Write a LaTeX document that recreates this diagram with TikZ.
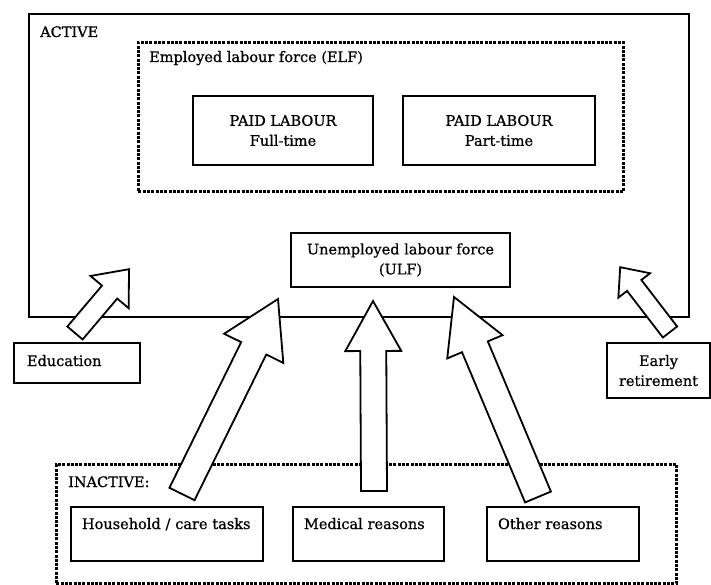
\documentclass[tikz,border=0pt]{standalone}
\usepackage{fontspec}
\setmainfont{DejaVu Serif}[FakeBold=0.8]
\usetikzlibrary{calc,positioning}

% fat outline arrow: tail, tip, shaft half width, head half width, head length
\newcommand{\blockarrow}[5]{%
  \coordinate (ba base) at ($(#2)!#5!(#1)$);
  \draw[blockarrow] ($(#1)!#3!90:(#2)$) -- ($(ba base)!#3!90:(#2)$)
    -- ($(ba base)!#4!90:(#2)$) -- (#2) -- ($(ba base)!#4!-90:(#2)$)
    -- ($(ba base)!#3!-90:(#2)$) -- ($(#1)!#3!-90:(#2)$) -- cycle;
}

\tikzset{%
  % Specifications for style of boxes:
          base/.style = {rectangle, draw=black, line width=2pt, inner sep=0pt,
                         anchor=north west, font=\fontsize{14.5}{20}\selectfont},
      framebox/.style = {base, line width=2.2pt},
       dashbox/.style = {base, line width=2.8pt, dash pattern=on 3pt off 1.3pt},
       paidbox/.style = {base, align=center, minimum height=69pt},
      causebox/.style = {base, align=left, inner xsep=11pt, inner ysep=10pt,
                         text height=12pt, text depth=22pt},
      boxlabel/.style = {anchor=base west, inner sep=0pt, font=\fontsize{14.5}{20}\selectfont},
    blockarrow/.style = {draw=black, fill=white, line width=1.8pt, line join=miter},
}

\begin{document}
\begin{tikzpicture}[x=1pt, y=-1pt]
  \useasboundingbox (0,0) rectangle (711,585);
  % Containers
  \node (active)    [framebox, minimum width=660pt, minimum height=303pt] at (28,13) {};
  \node (elf)       [dashbox, minimum width=485pt, minimum height=149pt] at (137,41) {};
  \node (inactive)  [dashbox, minimum width=620pt, minimum height=119pt] at (55,463) {};
  \node (active lbl)   [boxlabel] at (40,37) {ACTIVE};
  \node (elf lbl)      [boxlabel] at (149,62) {Employed labour force (ELF)};
  \node (inactive lbl) [boxlabel] at (68,487) {INACTIVE:};

  % Boxes
  \node (full)      [paidbox, minimum width=180pt] at (192,95) {PAID LABOUR\\Full-time};
  \node (part)      [paidbox, minimum width=192pt, right=28pt of full] {PAID LABOUR\\Part-time};
  \node (ulf)       [paidbox, minimum width=219pt, minimum height=54pt] at (290,232)
                    {Unemployed labour force\\(ULF)};
  \node (education) [causebox, inner xsep=13pt, text width=100pt, text height=13pt,
                     text depth=7pt] at (13,342) {Education};
  \node (early)     [paidbox, minimum width=103pt, minimum height=55pt] at (606,342)
                    {Early\\retirement};
  \node (household) [causebox, text width=170pt] at (70,506) {Household / care tasks};
  \node (medical)   [causebox, text width=129pt, right=28pt of household] {Medical reasons};
  \node (other)     [causebox, text width=130pt, right=41pt of medical] {Other reasons};

  % Arrow ends
  \coordinate (edu tail)   at ($(education.north)+(-2,-9)$);
  \coordinate (edu tip)    at ($(active.south west)+(101,-49)$);
  \coordinate (house tail) at ($(household.north)+(15,-12)$);
  \coordinate (house tip)  at ($(ulf.south)+(-122.5,11)$);
  \coordinate (med tail)   at ($(medical.north)+(5.5,-15)$);
  \coordinate (med tip)    at ($(ulf.south)+(-27.5,13)$);
  \coordinate (oth tail)   at ($(other.north)+(-25,-9)$);
  \coordinate (oth tip)    at ($(ulf.south)+(53.5,9)$);
  \coordinate (early tail) at ($(early.north)+(11.5,-10)$);
  \coordinate (early tip)  at ($(active.south east)+(-70,-51)$);

  \blockarrow{edu tail}{edu tip}{10pt}{25pt}{30pt}
  \blockarrow{house tail}{house tip}{14pt}{33pt}{55pt}
  \blockarrow{med tail}{med tip}{13pt}{28pt}{50pt}
  \blockarrow{oth tail}{oth tip}{14pt}{30pt}{54pt}
  \blockarrow{early tail}{early tip}{9pt}{20pt}{23pt}
\end{tikzpicture}
\end{document}
